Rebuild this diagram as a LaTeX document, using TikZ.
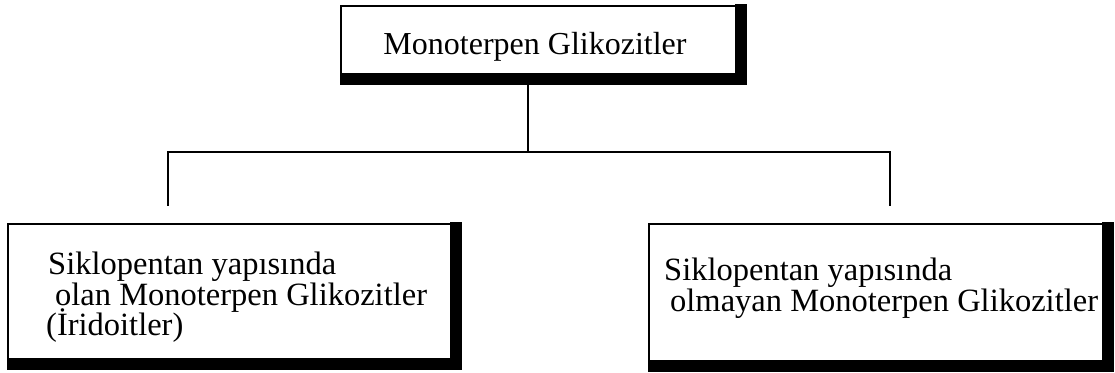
\documentclass[tikz,border=0pt]{standalone}
\usepackage{fontspec}
\setmainfont{Liberation Serif}
\usetikzlibrary{calc}
\begin{document}
\begin{tikzpicture}[x=1pt,y=-1pt,
  thin line/.style={line width=2.6pt,black},
  frame/.style={draw=black,line width=2.4pt,rectangle,inner sep=0pt},
  shade bar/.style={fill=black,draw=none},
  lbl/.style={inner sep=0pt,font=\fontsize{32.5}{33}\selectfont,anchor=base west},
  lblc/.style={inner sep=0pt,font=\fontsize{32}{33}\selectfont,anchor=base}]
\useasboundingbox (0,0) rectangle (1115,372);
% top box
\node[frame,minimum width=395pt,minimum height=68pt,anchor=north west] (top) at (340,5) {};
\fill[shade bar] ($(top.north east)+(-2,-1)$) rectangle ($(top.south east)+(10,10)$);
\fill[shade bar] ($(top.south west)+(0,-1)$) rectangle ($(top.south east)+(10,10)$);
\node[lblc] (toptext) at (535,54) {Monoterpen Glikozitler};
% left box
\node[frame,minimum width=443pt,minimum height=135pt,anchor=north west] (lbox) at (7,223) {};
\fill[shade bar] ($(lbox.north east)+(-2,-1)$) rectangle ($(lbox.south east)+(10,10)$);
\fill[shade bar] ($(lbox.south west)+(0,-1)$) rectangle ($(lbox.south east)+(10,10)$);
\node[lbl] (l1) at (48,274) {Siklopentan yapısında};
\node[lbl] (l2) at (55,305) {olan Monoterpen Glikozitler};
\node[lbl] (l3) at (46,335) {(İridoitler)};
% right box
\node[frame,minimum width=454pt,minimum height=137pt,anchor=north west] (rbox) at (648,223) {};
\fill[shade bar] ($(rbox.north east)+(-2,-1)$) rectangle ($(rbox.south east)+(10,10)$);
\fill[shade bar] ($(rbox.south west)+(0,-1)$) rectangle ($(rbox.south east)+(10,10)$);
\node[lbl] (r1) at (664,280) {Siklopentan yapısında};
\node[lbl] (r2) at (670,311) {olmayan Monoterpen Glikozitler};
% connectors
\coordinate (jc) at (528,152);
\coordinate (jl) at (168,152);
\coordinate (jr) at (890,152);
\coordinate (el) at (168,206);
\coordinate (er) at (890,206);
\draw[thin line] ($(top.south -| jc)+(0,10)$) -- (jc);
\draw[thin line,line cap=rect] (jl) -- (jr);
\draw[thin line] (jl) -- (el);
\draw[thin line] (jr) -- (er);
\end{tikzpicture}
\end{document}
